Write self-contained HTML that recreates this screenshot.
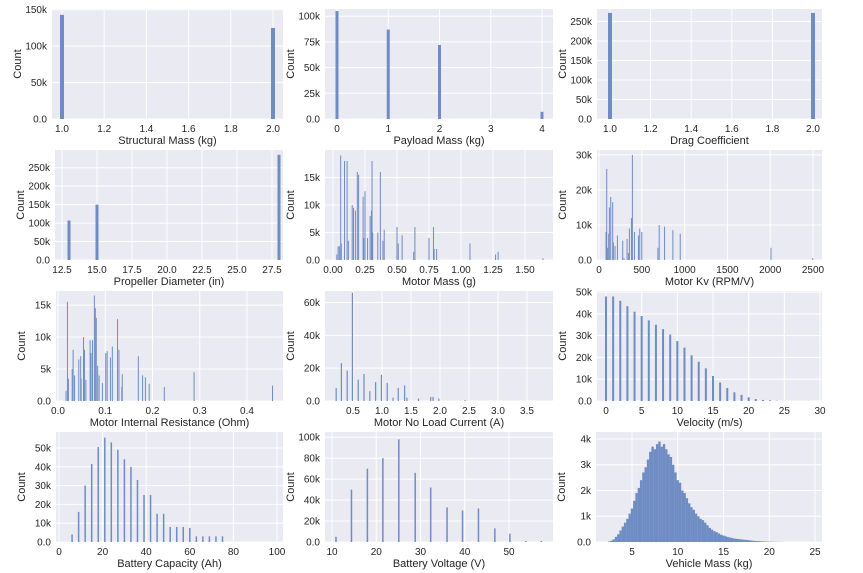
<!DOCTYPE html>
<html><head><meta charset="utf-8">
<style>
html,body{margin:0;padding:0;background:#fff;}
svg{display:block;font-family:"Liberation Sans",sans-serif;}
</style></head>
<body>
<svg id="chart" width="863" height="573" viewBox="0 0 863 573" xmlns="http://www.w3.org/2000/svg"></svg>
<script>
// ---- data ----
const structX = [1, 2];
const structCounts = [143000, 125000];
const payloadX = [0, 1, 2, 4];
const payloadCounts = [105000, 87000, 72000, 7000];
const dragX = [1, 2];
const dragCounts = [272000, 272000];
const propX = [13, 15, 28];
const propCounts = [107000, 150000, 285000];
const motorMassX = [0.03,0.04,0.05,0.06,0.065,0.09,0.11,0.12,0.15,0.16,0.175,0.19,0.2,0.235,0.24,0.25,0.27,0.29,0.3,0.305,0.31,0.35,0.37,0.39,0.4,0.5,0.51,0.54,0.63,0.64,0.75,0.785,0.79,0.81,1.07,1.27,1.29,1.64];
const motorMassCounts = [1000,2500,2500,19000,3000,18000,18000,3500,10000,9500,9000,16000,15500,11500,4000,12500,4000,8000,9000,18000,5000,5000,16000,3500,5500,6000,3000,4500,1500,6000,4000,6000,2000,2000,3000,1000,1500,300];
const kvX = [82,90,101,113,121,137,160,168,187,215,277,293,328,343,355,379,390,414,461,476,500,688,703,766,863,949,2009,2497];
const kvCounts = [8000,26000,3500,7500,15000,18000,16500,5000,4000,7000,5500,500,6000,2000,9000,12000,30000,8000,7000,9000,8000,3500,10000,9500,8500,7500,3500,500];
const resX = [0.017,0.020,0.022,0.030,0.032,0.035,0.044,0.048,0.049,0.054,0.056,0.059,0.068,0.070,0.073,0.077,0.079,0.081,0.084,0.087,0.094,0.101,0.104,0.111,0.115,0.126,0.129,0.136,0.135,0.170,0.179,0.185,0.193,0.225,0.288,0.454];
const resCounts = [1600,15500,3500,5000,8000,4000,6500,7000,3500,10000,8000,3300,9500,7500,9500,16500,14500,13000,5500,4000,2800,7500,7800,6800,8500,12800,8000,4200,2200,7000,4000,3700,2700,2200,4500,2400];
const currentX = [0.21,0.30,0.40,0.49,0.59,0.69,0.79,0.89,0.99,1.09,1.19,1.28,1.39,1.43,1.63,1.84,1.88,1.98,2.43];
const currentCounts = [8000,23000,18500,66000,13000,16500,6000,11500,16000,11000,2000,8000,9500,2000,1500,2500,2500,1500,500];
const velX = [0,1,2,3,4,5,6,7,8,9,10,11,12,13,14,15,16,17,18,19,20,21,22,23,24,25,26];
const velCounts = [48000,48000,46000,43500,41000,39000,37000,35000,33000,30500,27500,24500,21000,18000,15000,11500,8500,6000,4000,2800,1700,900,500,300,100,50,20];
const capX = [6,9,12,15,18,21,24,27,30,33,36,39,42,45,48,51,54,57,60,63,66,69,72,75];
const capCounts = [4000,16000,30000,41500,50500,55500,53000,49000,44000,40000,33000,25000,25000,15000,15000,8000,8000,8000,7500,3000,3000,3000,3000,3000];
const voltX = [10.9,14.4,18.0,21.5,25.1,28.8,32.3,36.0,39.5,43.1,46.8,50.2,53.8,57.3];
const voltCounts = [5000,50000,70000,80000,98000,66000,52000,33000,30000,32000,13000,8000,1000,1000];
const vmX = [2.5,2.75,3,3.25,3.5,3.75,4,4.25,4.5,4.75,5,5.25,5.5,5.75,6,6.25,6.5,6.75,7,7.25,7.5,7.75,8,8.25,8.5,8.75,9,9.25,9.5,9.75,10,10.25,10.5,10.75,11,11.25,11.5,11.75,12,12.25,12.5,12.75,13,13.25,13.5,13.75,14,14.25,14.5,14.75,15,15.25,15.5,15.75,16,16.25,16.5,16.75,17,17.25,17.5,17.75,18,18.25,18.5,18.75,19,19.25,19.5,19.75,20,20.25,20.5,20.75,21,21.25,21.5];
const vmCounts = [20,50,100,200,300,450,600,750,900,1100,1300,1600,1900,2100,2400,2700,2900,3200,3500,3700,3600,3800,3900,3700,3800,3600,3400,3300,3000,2700,2400,2300,2000,1900,1700,1500,1350,1250,1100,1000,900,850,750,650,550,480,420,380,330,280,250,220,190,170,150,130,120,110,100,90,80,70,60,50,40,35,30,25,20,15,12,10,8,6,5,4,3];

const structTicks = [1.0,1.2,1.4,1.6,1.8,2.0];
const payloadTicks = [0,1,2,3,4];
const propTicks = [12.5,15,17.5,20,22.5,25,27.5];
const mmTicks = [0,0.25,0.5,0.75,1.0,1.25,1.5];
const kvTicks = [0,500,1000,1500,2000,2500];
const resTicks = [0,0.1,0.2,0.3,0.4];
const curTicks = [0.5,1,1.5,2,2.5,3,3.5];
const velTicks = [0,5,10,15,20,25,30];
const capTicks = [0,20,40,60,80,100];
const voltTicks = [10,20,30,40,50];
const vmTicks = [5,10,15,20,25];

const NS = "http://www.w3.org/2000/svg";
const svg = document.getElementById('chart');
function mk(tag, attrs, parent){const e=document.createElementNS(NS,tag);for(const k in attrs)e.setAttribute(k,attrs[k]);(parent||svg).appendChild(e);return e;}
function fmtK(v){ if(v===0) return "0.0"; return (v/1000)+"k"; }

const panels = [
 {name:'structural-mass',xl:'Structural Mass (kg)',L:52,R:283,T:9,x:structX,y:structCounts,xs:[1,62,2,273],ymax:151000,xt:structTicks,xf:v=>v.toFixed(1),yt:[0,50000,100000,150000],bw:4},
 {name:'payload-mass',xl:'Payload Mass (kg)',L:325,R:553,T:9,x:payloadX,y:payloadCounts,xs:[0,337,4,542],ymax:107000,xt:payloadTicks,xf:v=>String(v),yt:[0,25000,50000,75000,100000],bw:3},
 {name:'drag-coefficient',xl:'Drag Coefficient',L:597,R:822,T:9,x:dragX,y:dragCounts,xs:[1,610,2,813],ymax:282000,xt:structTicks,xf:v=>v.toFixed(1),yt:[0,50000,100000,150000,200000,250000],bw:4},
 {name:'propeller-diameter',xl:'Propeller Diameter (in)',L:55,R:283,T:150,x:propX,y:propCounts,xs:[12.5,62,27.5,272],ymax:298000,xt:propTicks,xf:v=>v.toFixed(1),yt:[0,50000,100000,150000,200000,250000],bw:3},
 {name:'motor-mass',xl:'Motor Mass (g)',L:325,R:553,T:150,x:motorMassX,y:motorMassCounts,xs:[0,333,1.5,525],ymax:20000,xt:mmTicks,xf:v=>v.toFixed(2),yt:[0,5000,10000,15000],bw:1},
 {name:'motor-kv',xl:'Motor Kv (RPM/V)',L:597,R:822,T:150,x:kvX,y:kvCounts,xs:[0,599,2500,813],ymax:31400,xt:kvTicks,xf:v=>String(v),yt:[0,10000,20000,30000],bw:1},
 {name:'motor-internal-resistance',xl:'Motor Internal Resistance (Ohm)',L:56,R:283,T:291,x:resX,y:resCounts,xs:[0,58,0.4,247],ymax:17200,xt:resTicks,xf:v=>v.toFixed(1),yt:[0,5000,10000,15000],bw:1},
 {name:'motor-no-load-current',xl:'Motor No Load Current (A)',L:325,R:553,T:291,x:currentX,y:currentCounts,xs:[0.5,353,3.5,527],ymax:67000,xt:curTicks,xf:v=>v.toFixed(1),yt:[0,20000,40000,60000],bw:1.2},
 {name:'velocity',xl:'Velocity (m/s)',L:597,R:822,T:291,x:velX,y:velCounts,xs:[0,606,30,820],ymax:50500,xt:velTicks,xf:v=>String(v),yt:[0,10000,20000,30000,40000,50000],bw:2},
 {name:'battery-capacity',xl:'Battery Capacity (Ah)',L:56,R:283,T:432,x:capX,y:capCounts,xs:[0,59,100,277],ymax:58500,xt:capTicks,xf:v=>String(v),yt:[0,10000,20000,30000,40000,50000],bw:1.5},
 {name:'battery-voltage',xl:'Battery Voltage (V)',L:325,R:553,T:432,x:voltX,y:voltCounts,xs:[10,332,50,509],ymax:105000,xt:voltTicks,xf:v=>String(v),yt:[0,20000,40000,60000,80000,100000],bw:1.5},
 {name:'vehicle-mass',xl:'Vehicle Mass (kg)',L:596,R:822,T:432,x:vmX,y:vmCounts,xs:[5,632,25,815],ymax:4270,xt:vmTicks,xf:v=>String(v),yt:[0,1000,2000,3000,4000],bw:2.4}
];
const H = 110;

panels.forEach(p=>{
  const g = mk('g',{});
  
  
  const B = p.T + H;
  const sx = v => p.xs[1] + (v - p.xs[0]) * (p.xs[3]-p.xs[1])/(p.xs[2]-p.xs[0]);
  const sy = v => B - v / p.ymax * H;
  const bg = mk('rect',{x:p.L,y:p.T,width:p.R-p.L,height:H,fill:'#eaeaf2'},g);
  
  
  p.xt.forEach(t=>{
    const X = sx(t);
    mk('line',{x1:X,x2:X,y1:p.T,y2:B,stroke:'#fff','stroke-width':1},g);
    const tx = mk('text',{x:X,y:B+13,'text-anchor':'middle','font-size':10,fill:'#262626'},g);
    tx.textContent = p.xf(t);
    
    
  });
  p.yt.forEach(t=>{
    const Y = sy(t);
    mk('line',{x1:p.L,x2:p.R,y1:Y,y2:Y,stroke:'#fff','stroke-width':1},g);
    const ty = mk('text',{x:p.L-5,y:Y+3.5,'text-anchor':'end','font-size':10,fill:'#262626'},g);
    ty.textContent = fmtK(t);
    
    
  });
  p.x.forEach((v,i)=>{
    const X = sx(v), Y = sy(p.y[i]);
    const r = mk('rect',{x:X-p.bw/2,y:Y,width:p.bw,height:Math.max(0,B-Y),fill:'#6f8dc3'},g);
    
    
  });
  const xl = mk('text',{x:(p.L+p.R)/2,y:B+25,'text-anchor':'middle','font-size':11,fill:'#262626'},g);
  xl.textContent = p.xl;
  
  
  const cy = p.T + H/2;
  const cx = p.L - 31;
  const yl = mk('text',{x:cx,y:cy,'text-anchor':'middle','font-size':11,fill:'#262626',transform:'rotate(-90 '+cx+' '+cy+')'},g);
  yl.textContent = 'Count';
  
  
});
</script>
</body></html>
